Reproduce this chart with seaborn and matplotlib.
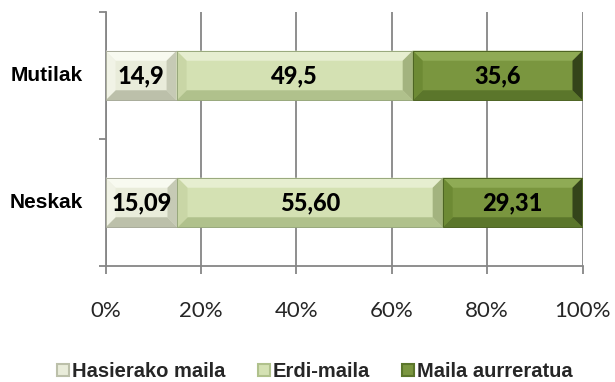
import matplotlib
matplotlib.use("Agg")
import matplotlib.pyplot as plt
from matplotlib.patches import Polygon, Rectangle
import numpy as np
import pandas as pd
import seaborn as sns

# Data
groups = ["Mutilak", "Neskak"]
levels = ["Hasierako maila", "Erdi-maila", "Maila aurreratua"]
hasierako = [14.9, 15.09]
erdi = [49.5, 55.60]
aurreratua = [35.6, 29.31]
value_labels = [["14,9", "15,09"], ["49,5", "55,60"], ["35,6", "29,31"]]
x_ticks = [0, 20, 40, 60, 80, 100]
x_tick_labels = ["0%", "20%", "40%", "60%", "80%", "100%"]

face = ["#e9ecda", "#d4e1b3", "#7a963f"]
bevel = {
    # top, left, bottom, right
    0: ["#f8faf0", "#f1f3e6", "#bcc0aa", "#c6cab5"],
    1: ["#e6eed0", "#c9d6a6", "#b0c18c", "#a3b37f"],
    2: ["#8fab55", "#6d8a34", "#5b762b", "#34441a"],
}
edge = ["#a8ab9a", "#98a87c", "#4c6322"]

series = np.array([hasierako, erdi, aurreratua])
cum = np.cumsum(series, axis=0)
starts = cum - series

sns.set_theme(style="white")
plt.rcParams["font.family"] = ["Liberation Sans", "DejaVu Sans"]

fig = plt.figure(figsize=(6.15, 3.82), dpi=100)
ax = fig.add_axes([105.5 / 615, 1 - 266 / 382, (582.5 - 105.5) / 615, (266 - 12) / 382])

bar_h = 0.39
# stacked bars: draw cumulative totals from the longest to the shortest
for i in reversed(range(len(levels))):
    df = pd.DataFrame({"grupo": groups, "balioa": cum[i]})
    sns.barplot(data=df, y="grupo", x="balioa", orient="h", color=face[i],
                width=bar_h, saturation=1, linewidth=0, ax=ax, zorder=3)

ax.set_xlim(0, 100)
ax.set_ylim(1.5, -0.5)

# bevelled edges of each segment
px_x = ax.transData.transform((1, 0))[0] - ax.transData.transform((0, 0))[0]
px_y = abs(ax.transData.transform((0, 1))[1] - ax.transData.transform((0, 0))[1])
bx = 10 / px_x
by = 10 / px_y
for i in range(len(levels)):
    for j in range(len(groups)):
        x0 = starts[i, j]
        x1 = cum[i, j]
        T = j - bar_h / 2
        B = j + bar_h / 2
        top, left, bottom, right = bevel[i]
        polys = [
            ([(x0, T), (x1, T), (x1 - bx, T + by), (x0 + bx, T + by)], top),
            ([(x0, B), (x1, B), (x1 - bx, B - by), (x0 + bx, B - by)], bottom),
            ([(x0, T), (x0 + bx, T + by), (x0 + bx, B - by), (x0, B)], left),
            ([(x1, T), (x1 - bx, T + by), (x1 - bx, B - by), (x1, B)], right),
        ]
        for pts, col in polys:
            ax.add_patch(Polygon(pts, closed=True, facecolor=col,
                                 edgecolor="none", zorder=4))
        ax.add_patch(Rectangle((x0, T), x1 - x0, B - T, fill=False,
                               edgecolor=edge[i], linewidth=0.7, zorder=5))
        ax.text((x0 + x1) / 2, j, value_labels[i][j], ha="center", va="center",
                fontsize=17, fontweight="black", family=["Lato", "DejaVu Sans"],
                color="black", zorder=6)

# axes styling
ax.set_xticks(x_ticks)
ax.set_xticklabels(x_tick_labels, fontsize=16, family=["Lato", "DejaVu Sans"])
ax.xaxis.grid(True, color="#868686", linewidth=1.3, zorder=0)
ax.set_axisbelow(True)
ax.tick_params(axis="x", length=6, width=1.3, color="#868686", pad=19,
               bottom=True)
ax.set_yticks([-0.5, 0.5, 1.5])
ax.set_yticklabels([])
ax.tick_params(axis="y", length=5, width=1.3, color="#868686", left=True)
ax.set_xlabel("")
ax.set_ylabel("")
for s in ["top", "right"]:
    ax.spines[s].set_visible(False)
for s in ["left", "bottom"]:
    ax.spines[s].set_color("#868686")
    ax.spines[s].set_linewidth(1.3)

for j, g in enumerate(groups):
    ax.text(-0.047, j, g, transform=ax.get_yaxis_transform(), ha="right",
            va="center", fontsize=15, fontweight="bold", color="black")

handles = [Rectangle((0, 0), 1, 1, facecolor=face[i], edgecolor=bevel[i][2],
                     linewidth=1.5) for i in range(len(levels))]
leg = fig.legend(handles, levels, loc="center", bbox_to_anchor=(0.512, 0.027),
                 ncol=3, frameon=False, handlelength=0.6, handleheight=0.6,
                 handletextpad=0.15, columnspacing=1.6,
                 prop={"size": 14.5, "weight": "bold"})

fig.savefig("out.png", dpi=100)
